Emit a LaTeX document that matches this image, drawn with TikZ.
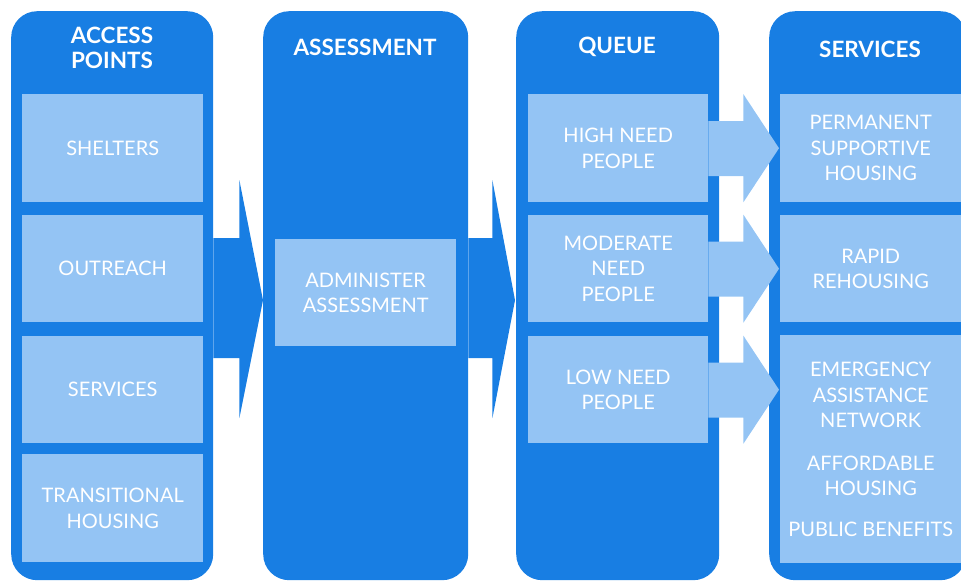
\documentclass[tikz,border=0pt]{standalone}
\usepackage{fontspec}
\setmainfont{Lato}
\usetikzlibrary{calc}
\definecolor{dark}{HTML}{187EE3}
\definecolor{light}{HTML}{94C4F4}
\begin{document}
\begin{tikzpicture}[x=1pt,y=-1pt,
  col/.style={fill=dark, rounded corners=26pt, anchor=north west, inner sep=0pt, minimum height=569pt},
  box/.style={fill=light, anchor=north west, inner sep=0pt, text=white, align=center,
    font=\fontsize{20}{25.5}\selectfont},
  head/.style={text=white, align=center, font=\bfseries\fontsize{22.5}{25}\selectfont},
  bigarrow/.style={fill=dark},
  smallarrow/.style={fill=light}]
\useasboundingbox (0,0) rectangle (961,582);
\clip (0,0) rectangle (961,582);
% columns
\node[col, minimum width=202pt] (c1) at (11,11) {};
\node[col, minimum width=205pt] (c2) at (263,11) {};
\node[col, minimum width=203pt] (c3) at (516,11) {};
\node[col, minimum width=197pt] (c4) at (769,11) {};
% headers
\node[head] (h1) at (112,48) {ACCESS\\POINTS};
\node[head] (h2) at (365,47) {ASSESSMENT};
\node[head] (h3) at (617,47) {QUEUE};
\node[head] (h4) at (870,49) {SERVICES};
% access points
\node[box, minimum width=181pt, minimum height=108pt] (shelters) at (22,94) {SHELTERS};
\node[box, minimum width=181pt, minimum height=107pt] (outreach) at (22,215) {OUTREACH};
\node[box, minimum width=181pt, minimum height=107pt] (services) at (22,336) {SERVICES};
\node[box, minimum width=181pt, minimum height=108pt] (trans) at (22,454) {TRANSITIONAL\\HOUSING};
% assessment
\node[box, minimum width=181pt, minimum height=107pt] (admin) at (275,239) {ADMINISTER\\ASSESSMENT};
% queue
\node[box, minimum width=180pt, minimum height=108pt] (high) at (528,94) {HIGH NEED\\PEOPLE};
\node[box, minimum width=180pt, minimum height=107pt] (mod) at (528,215) {MODERATE\\NEED\\PEOPLE};
\node[box, minimum width=180pt, minimum height=107pt] (low) at (528,336) {LOW NEED\\PEOPLE};
% services
\node[box, minimum width=181pt, minimum height=108pt] (psh) at (780,94) {PERMANENT\\SUPPORTIVE\\HOUSING};
\node[box, minimum width=181pt, minimum height=107pt] (rapid) at (780,215) {RAPID\\REHOUSING};
\node[box, minimum width=181pt, minimum height=228pt] (other) at (780,335)
  {EMERGENCY\\ASSISTANCE\\NETWORK\\[17pt]AFFORDABLE\\HOUSING\\[15pt]PUBLIC BENEFITS};
% big arrows
\coordinate (a1) at ($(c1.east)+(0,3.5)$);
\coordinate (t1) at ($(c2.west)+(0,4.5)$);
\fill[bigarrow] ($(a1)+(0,-61)$) -- ($(a1)+(26,-61)$) -- ($(a1)+(26,-119)$) -- (t1)
  -- ($(a1)+(26,119)$) -- ($(a1)+(26,59)$) -- ($(a1)+(0,59)$) -- cycle;
\coordinate (a2) at ($(c2.east)+(0,3.5)$);
\coordinate (t2) at ($(c3.west)+(-1,4.5)$);
\fill[bigarrow] ($(a2)+(0,-61)$) -- ($(a2)+(24,-61)$) -- ($(a2)+(24,-119)$) -- (t2)
  -- ($(a2)+(24,119)$) -- ($(a2)+(24,59)$) -- ($(a2)+(0,59)$) -- cycle;
% small arrows
\foreach \s/\t in {high/psh, mod/rapid, low/other}{
  \coordinate (s) at (\s.east);
  \fill[smallarrow] ($(s)+(0,-27)$) -- ($(s)+(35,-27)$) -- ($(s)+(35,-54)$)
    -- ($(\t.west |- s)+(-1,0)$) -- ($(s)+(35,54)$) -- ($(s)+(35,28)$) -- ($(s)+(0,28)$) -- cycle;
}
\end{tikzpicture}
\end{document}
